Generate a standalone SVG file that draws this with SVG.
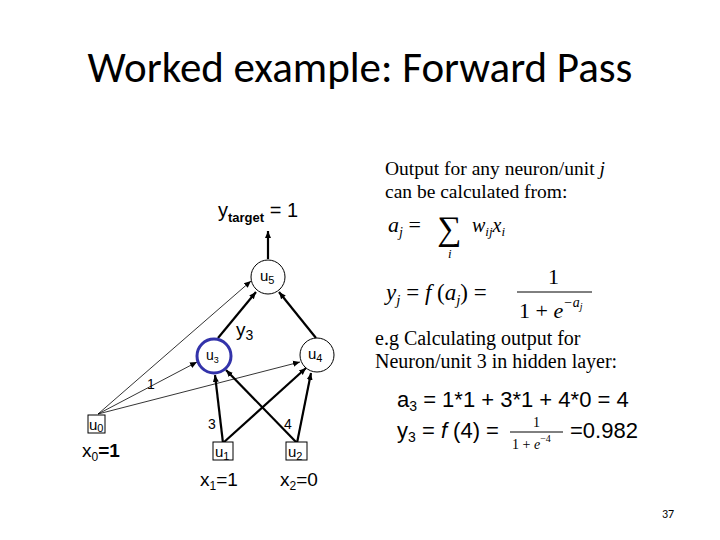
<svg xmlns="http://www.w3.org/2000/svg" width="720" height="540" viewBox="0 0 720 540">
<defs>
<marker id="ah" markerWidth="8" markerHeight="8" refX="7" refY="4" orient="auto" markerUnits="userSpaceOnUse"><path d="M0,1 L7,4 L0,7 Z" fill="#000"/></marker>
<style>
.s{font-family:"Liberation Sans",Arial,sans-serif;fill:#000}
.r{font-family:"Liberation Serif","Times New Roman",serif;fill:#000}
.n{fill:#fff;stroke:#000;stroke-width:1}
.thick{stroke:#000;stroke-width:2.2;fill:none}
.thin{stroke:#000;stroke-width:0.8;fill:none}
</style>
</defs>
<rect width="720" height="540" fill="#fff"/>
<text x="360" y="82" text-anchor="middle" font-family="Carlito,'Open Sans',sans-serif" font-size="43">Worked example: Forward Pass</text>
<g id="connectors">
<line class="thick" x1="268" y1="259" x2="268" y2="231" marker-end="url(#ah)"/>
<line class="thin" x1="98" y1="414" x2="251" y2="281" marker-end="url(#ah)"/>
<line class="thin" x1="98" y1="414" x2="197" y2="362" marker-end="url(#ah)"/>
<line class="thin" x1="98" y1="414" x2="300" y2="362" marker-end="url(#ah)"/>
<line class="thick" x1="223" y1="443" x2="215" y2="375" marker-end="url(#ah)"/>
<line class="thick" x1="223" y1="443" x2="306" y2="368" marker-end="url(#ah)"/>
<line class="thick" x1="297" y1="443" x2="226" y2="370" marker-end="url(#ah)"/>
<line class="thick" x1="297" y1="443" x2="311" y2="373" marker-end="url(#ah)"/>
<line class="thick" x1="218" y1="338" x2="256" y2="292" marker-end="url(#ah)"/>
<line class="thick" x1="316" y1="338" x2="279" y2="292" marker-end="url(#ah)"/>
<text class="s" x="147" y="389" font-size="14">1</text>
<text class="s" x="208" y="429" font-size="14">3</text>
<text class="s" x="284" y="429" font-size="14">4</text>
<text class="s" x="236" y="336" font-size="19">y<tspan font-size="14" dy="4">3</tspan></text>
</g>
<text class="s" x="218" y="217" font-size="20">y<tspan font-size="13" dy="5" font-weight="bold">target</tspan><tspan dy="-5"> = 1</tspan></text>
<g id="u5"><circle class="n" cx="268" cy="277" r="17"/><text class="s" x="260" y="281" font-size="15">u<tspan font-size="11" dy="3">5</tspan></text></g>
<g id="u3"><circle cx="214" cy="356" r="17" fill="#fff" stroke="#3333aa" stroke-width="3"/><text class="s" x="206" y="360" font-size="14">u<tspan font-size="9" dy="3">3</tspan></text></g>
<g id="u4"><circle class="n" cx="317" cy="355" r="17"/><text class="s" x="308" y="359" font-size="15">u<tspan font-size="11" dy="3">4</tspan></text></g>
<g id="u0"><rect class="n" x="88" y="415" width="17" height="18"/><text class="s" x="89" y="430" font-size="15">u<tspan font-size="11" dy="2">0</tspan></text><text class="s" x="82" y="457" font-size="19">x<tspan font-size="12" dy="4">0</tspan><tspan dy="-4" font-weight="bold">=1</tspan></text></g>
<g id="u1"><rect class="n" x="213" y="442" width="20" height="18"/><text class="s" x="215" y="457" font-size="15">u<tspan font-size="11" dy="3">1</tspan></text><text class="s" x="200" y="486" font-size="19">x<tspan font-size="12" dy="4">1</tspan><tspan dy="-4">=1</tspan></text></g>
<g id="u2"><rect class="n" x="286" y="442" width="21" height="18"/><text class="s" x="288" y="457" font-size="15">u<tspan font-size="11" dy="3">2</tspan></text><text class="s" x="280" y="486" font-size="19">x<tspan font-size="12" dy="4">2</tspan><tspan dy="-4">=0</tspan></text></g>
<g id="text-right">
<text class="r" x="385" y="175" font-size="19.5">Output for any neuron/unit  <tspan font-style="italic">j</tspan></text>
<text class="r" x="385" y="198" font-size="19.5">can be calculated from:</text>
<text class="r" x="388" y="232" font-size="22" font-style="italic">a<tspan font-size="14" dy="5">j</tspan><tspan dy="-5" font-style="normal"> =</tspan></text>
<text class="r" x="437" y="240" font-size="34">∑</text>
<text class="r" x="448" y="258" font-size="13" font-style="italic">i</text>
<text class="r" x="472" y="232" font-size="20" font-style="italic">w<tspan font-size="13" dy="4">ij</tspan><tspan dy="-4">x</tspan><tspan font-size="13" dy="4">i</tspan></text>
<text class="r" x="386" y="300" font-size="23" font-style="italic">y<tspan font-size="15" dy="5">j</tspan><tspan dy="-5" font-style="normal"> = </tspan>f<tspan font-style="normal"> (</tspan>a<tspan font-size="15" dy="5">j</tspan><tspan dy="-5" font-style="normal">) =</tspan></text>
<line x1="517" y1="292" x2="592" y2="292" stroke="#000" stroke-width="1"/>
<text class="r" x="548" y="284" font-size="22">1</text>
<text class="r" x="519" y="318" font-size="22">1 + <tspan font-style="italic">e</tspan><tspan font-size="14" dy="-11" font-style="italic">−a</tspan><tspan font-size="10" dy="3" font-style="italic">j</tspan></text>
<text class="r" x="375" y="345" font-size="20">e.g Calculating output for</text>
<text class="r" x="375" y="368" font-size="20">Neuron/unit  3 in hidden layer:</text>
<text class="s" x="397" y="407" font-size="22">a<tspan font-size="14" dy="4">3</tspan><tspan dy="-4"> = 1*1 + 3*1 + 4*0 = 4</tspan></text>
<text class="s" x="397" y="438" font-size="22">y<tspan font-size="14" dy="4">3</tspan><tspan dy="-4"> = </tspan><tspan font-style="italic">f</tspan> (4) =</text>
<line x1="510" y1="432" x2="563" y2="432" stroke="#000" stroke-width="1"/>
<text class="r" x="533" y="427" font-size="14">1</text>
<text class="r" x="512" y="449" font-size="14">1 + <tspan font-style="italic">e</tspan><tspan font-size="10" dy="-7">−4</tspan></text>
<text class="s" x="570" y="438" font-size="22">=0.982</text>
</g>
<text x="668" y="518" font-family="Carlito,'Open Sans',sans-serif" font-size="12" text-anchor="middle">37</text>
</svg>
